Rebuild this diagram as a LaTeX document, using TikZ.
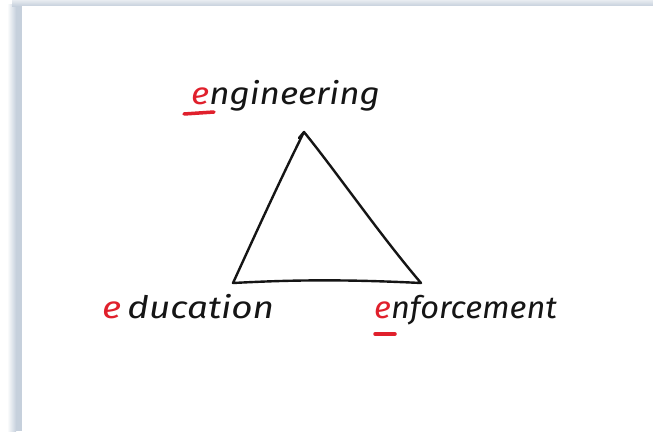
\documentclass[tikz,border=0pt]{standalone}
\usepackage{fontspec}
\setmainfont{Fira Sans}
\definecolor{frame}{HTML}{C6D0DC}
\definecolor{pen}{HTML}{151515}
\definecolor{mark}{HTML}{E0202C}
\tikzset{
  word/.style={anchor=base west, inner sep=0pt, font=\fontsize{31}{32}\selectfont\itshape, text=pen},
  stroke/.style={draw=pen, line width=2.4pt, line join=round, line cap=round},
  underl/.style={draw=mark, line width=3.5pt, line cap=round}
}
\begin{document}
\begin{tikzpicture}[x=1pt,y=-1pt]
\useasboundingbox (0,0) rectangle (653,431);
\fill[white] (0,0) rectangle (653,431);
% frame shadow
\shade[left color=white, right color=frame] (7,4) rectangle (16,431);
\fill[frame] (16,4) rectangle (22,431);
\shade[top color=white!60!frame, bottom color=frame] (12,0) rectangle (653,6);
\fill[white] (22,6) rectangle (653,431);
% triangle
\coordinate (T) at (304,132);
\coordinate (L) at (233,283);
\coordinate (R) at (421,283);
\draw[stroke] (T) .. controls (280,180) and (255,235) .. (L)
  .. controls (290,280) and (340,279) .. (R)
  .. controls (380,235) and (335,170) .. (T) -- (299,138);
% labels
\node[word, xscale=1.13] (eng) at (191,104) {\textcolor{mark}{e}ngineering};
\node[word, xscale=1.19] (edu) at (102,318) {\textcolor{mark}{e}\,ducation};
\node[word, xscale=1.05] (enf) at (374,318) {\textcolor{mark}{e}nforcement};
\draw[underl] (184,114) -- (214,112);
\draw[underl] (375,334) -- (395,334);
\end{tikzpicture}
\end{document}
